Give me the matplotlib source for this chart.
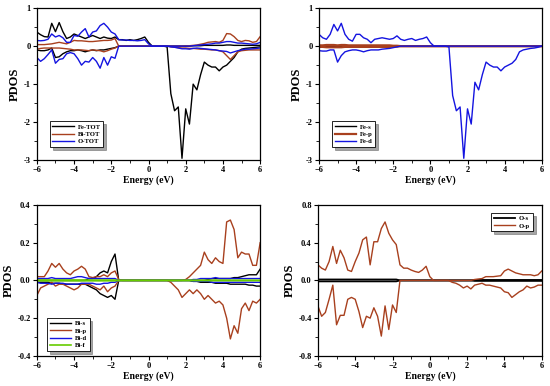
import numpy as np
import matplotlib
matplotlib.use("Agg")
import matplotlib.pyplot as plt
from matplotlib.ticker import MultipleLocator

plt.rcParams['font.family'] = 'Liberation Serif'
plt.rcParams['font.weight'] = 'bold'

# energy grid (eV), 0.2 eV steps from -6 to 6
energy = np.round(np.arange(-6, 6.01, 0.2), 1)

# ---- panel 1: total PDOS ----
fe_tot_up = [0.37, 0.30, 0.25, 0.24, 0.60, 0.38, 0.62, 0.38, 0.20, 0.24,
             0.32, 0.28, 0.24, 0.20, 0.24, 0.28, 0.24, 0.20, 0.24, 0.21,
             0.20, 0.24, 0.17, 0.17, 0.15, 0.17, 0.15, 0.17, 0.20, 0.24,
             0.10, 0, 0, 0, 0, 0, 0, 0, 0, 0,
             0, 0, 0.01, 0.01, 0.01, 0.02, 0.02, 0.02, 0.02, 0.02,
             0.02, 0.03, 0.03, 0.02, 0.02, 0.02, 0.02, 0.02, 0.02, 0.02, 0.02]
fe_tot_dn = [-0.10, -0.12, -0.12, -0.10, -0.05, -0.30, -0.28, -0.20, -0.15, -0.12,
             -0.12, -0.10, -0.12, -0.15, -0.12, -0.10, -0.12, -0.10, -0.10, -0.08,
             -0.06, -0.04, 0, 0, 0, 0, 0, 0, 0, 0,
             0, 0, 0, 0, 0, -0.02, -1.25, -1.70, -1.60, -2.95,
             -1.65, -2.05, -1.00, -1.15, -0.75, -0.42, -0.50, -0.55, -0.55, -0.65,
             -0.55, -0.50, -0.40, -0.30, -0.15, -0.08, -0.06, -0.05, -0.04, -0.03, -0.02]
bi_tot_up = [0.04, 0.04, 0.04, 0.05, 0.06, 0.08, 0.10, 0.08, 0.06, 0.10,
             0.15, 0.14, 0.14, 0.13, 0.12, 0.12, 0.13, 0.14, 0.15, 0.15,
             0.16, 0.20, 0, 0, 0, 0, 0, 0, 0, 0,
             0, 0, 0, 0, 0, 0, 0, 0, 0, 0,
             0.01, 0.01, 0.02, 0.03, 0.05, 0.07, 0.10, 0.11, 0.12, 0.10,
             0.15, 0.33, 0.32, 0.25, 0.15, 0.12, 0.15, 0.14, 0.10, 0.12, 0.25]
bi_tot_dn = [-0.08, -0.06, -0.05, -0.05, -0.05, -0.05, -0.05, -0.06, -0.07, -0.08,
             -0.10, -0.10, -0.10, -0.11, -0.12, -0.10, -0.11, -0.12, -0.15, -0.12,
             -0.08, -0.05, 0, 0, 0, 0, 0, 0, 0, 0,
             0, 0, 0, 0, 0, 0, -0.02, -0.03, -0.04, -0.05,
             -0.05, -0.06, -0.06, -0.07, -0.08, -0.08, -0.09, -0.10, -0.10, -0.12,
             -0.15, -0.25, -0.35, -0.25, -0.15, -0.12, -0.11, -0.10, -0.10, -0.10, -0.10]
o_tot_up = [0.15, 0.14, 0.15, 0.18, 0.32, 0.24, 0.28, 0.22, 0.10, 0.10,
            0.28, 0.26, 0.37, 0.46, 0.24, 0.37, 0.40, 0.54, 0.60, 0.50,
            0.37, 0.32, 0.17, 0.16, 0.16, 0.15, 0.15, 0.14, 0.15, 0.17,
            0.06, 0, 0, 0, 0, 0, 0, 0, 0, 0,
            0, 0, 0.01, 0.02, 0.03, 0.04, 0.05, 0.06, 0.08, 0.08,
            0.10, 0.12, 0.12, 0.10, 0.08, 0.08, 0.07, 0.06, 0.05, 0.06, 0.10]
o_tot_dn = [-0.30, -0.40, -0.33, -0.22, -0.10, -0.45, -0.35, -0.33, -0.20, -0.17,
            -0.20, -0.33, -0.50, -0.40, -0.42, -0.30, -0.40, -0.58, -0.30, -0.50,
            -0.28, -0.32, 0, 0, 0, 0, 0, 0, 0, 0,
            0, 0, 0, 0, 0, 0, -0.02, -0.03, -0.05, -0.07,
            -0.07, -0.08, -0.06, -0.05, -0.06, -0.07, -0.08, -0.09, -0.10, -0.12,
            -0.13, -0.14, -0.18, -0.15, -0.12, -0.10, -0.08, -0.08, -0.07, -0.06, -0.05]

# ---- panel 2: Fe orbitals ----
fe_s_up = [0.01] * 22 + [0] * 39
fe_s_dn = [-0.01] * 22 + [0] * 39
fe_p_up = [0.02, 0.02, 0.03, 0.03, 0.03, 0.02, 0.03, 0.03, 0.02, 0.02,
           0.02, 0.02, 0.02, 0.02, 0.02, 0.02, 0.02, 0.02, 0.02, 0.02,
           0.01, 0.01] + [0] * 39
fe_p_dn = [-0.02, -0.02, -0.03, -0.03, -0.03, -0.03, -0.03, -0.02, -0.02, -0.02,
           -0.02, -0.02, -0.02, -0.02, -0.02, -0.02, -0.02, -0.02, -0.02, -0.02,
           -0.01, -0.01] + [0] * 39
fe_d_up = [0.31, 0.22, 0.18, 0.31, 0.57, 0.40, 0.60, 0.31, 0.18, 0.13,
           0.31, 0.31, 0.22, 0.18, 0.09, 0.18, 0.20, 0.22, 0.20, 0.18,
           0.20, 0.27, 0.18, 0.15, 0.18, 0.20, 0.15, 0.18, 0.20, 0.24,
           0.09, 0, 0, 0, 0, 0, 0, 0, 0, 0,
           0, 0, 0, 0, 0, 0, 0, 0, 0, 0,
           0, 0, 0, 0, 0, 0, 0, 0, 0, 0, 0]
fe_d_dn = [-0.12, -0.13, -0.13, -0.10, -0.10, -0.42, -0.25, -0.15, -0.12, -0.10,
           -0.10, -0.12, -0.15, -0.12, -0.10, -0.10, -0.10, -0.08, -0.07, -0.06,
           -0.04, -0.02, 0, 0, 0, 0, 0, 0, 0, 0,
           0, 0, 0, 0, 0, -0.02, -1.30, -1.70, -1.60, -2.95,
           -1.65, -2.05, -0.95, -1.15, -0.75, -0.42, -0.50, -0.55, -0.55, -0.65,
           -0.55, -0.50, -0.45, -0.35, -0.15, -0.10, -0.08, -0.06, -0.05, -0.03, 0]

# ---- panel 3: Bi orbitals ----
bi_s_up = [0, 0, 0, 0, 0, 0, 0, 0, 0, 0,
           0, 0, 0, 0, 0.01, 0.01, 0.02, 0.04, 0.05, 0.04,
           0.10, 0.14, 0, 0, 0, 0, 0, 0, 0, 0,
           0, 0, 0, 0, 0, 0, 0, 0, 0, 0,
           0, 0, 0, 0, 0, 0, 0.005, 0.01, 0.01, 0.01,
           0.01, 0.01, 0.01, 0.015, 0.015, 0.02, 0.025, 0.03, 0.03, 0.03, 0.06]
bi_s_dn = [-0.01, -0.01, -0.01, -0.01, -0.015, -0.015, -0.015, -0.02, -0.02, -0.02,
           -0.02, -0.02, -0.02, -0.02, -0.03, -0.04, -0.05, -0.07, -0.08, -0.09,
           -0.08, -0.10, 0, 0, 0, 0, 0, 0, 0, 0,
           0, 0, 0, 0, 0, 0, 0, 0, 0, 0,
           0, 0, -0.005, -0.005, -0.01, -0.01, -0.01, -0.01, -0.015, -0.015,
           -0.015, -0.015, -0.02, -0.02, -0.02, -0.02, -0.02, -0.025, -0.025, -0.03, -0.03]
bi_p_up = [0.02, 0.02, 0.02, 0.05, 0.09, 0.07, 0.09, 0.06, 0.04, 0.03,
           0.05, 0.06, 0.075, 0.06, 0.02, 0.015, 0.02, 0.02, 0.03, 0.02,
           0.04, 0.05, 0.005, 0, 0, 0, 0, 0, 0, 0,
           0, 0, 0, 0, 0, 0, 0, 0, 0, 0,
           0.005, 0.02, 0.04, 0.06, 0.08, 0.15, 0.11, 0.09, 0.12, 0.10,
           0.09, 0.31, 0.32, 0.27, 0.12, 0.15, 0.14, 0.14, 0.08, 0.08, 0.20]
bi_p_dn = [-0.08, -0.04, -0.03, -0.02, -0.01, -0.03, -0.02, -0.02, -0.03, -0.04,
           -0.05, -0.04, -0.02, -0.02, -0.02, -0.03, -0.04, -0.05, -0.03, -0.06,
           -0.04, -0.03, 0, 0, 0, 0, 0, 0, 0, 0,
           0, 0, 0, 0, 0, 0, -0.01, -0.03, -0.05, -0.09,
           -0.07, -0.05, -0.07, -0.05, -0.07, -0.10, -0.08, -0.10, -0.12, -0.11,
           -0.13, -0.20, -0.31, -0.24, -0.28, -0.15, -0.12, -0.16, -0.11, -0.12, -0.10]
bi_d_up = [0.01, 0.01, 0.01, 0.01, 0.015, 0.01, 0.01, 0.01, 0.01, 0.01,
           0.015, 0.02, 0.02, 0.015, 0.01, 0.01, 0.01, 0.01, 0.01, 0.01,
           0.01, 0.01, 0, 0, 0, 0, 0, 0, 0, 0,
           0, 0, 0, 0, 0, 0, 0, 0, 0, 0,
           0, 0, 0.005, 0.005, 0.01, 0.01, 0.01, 0.01, 0.015, 0.01,
           0.01, 0.01, 0.01, 0.01, 0.01, 0.01, 0.01, 0.01, 0.01, 0.01, 0.01]
bi_d_dn = [-0.01, -0.015, -0.015, -0.015, -0.02, -0.015, -0.015, -0.015, -0.02, -0.02,
           -0.02, -0.02, -0.015, -0.015, -0.015, -0.015, -0.02, -0.02, -0.015, -0.015,
           -0.01, -0.01, 0, 0, 0, 0, 0, 0, 0, 0,
           0, 0, 0, 0, 0, 0, 0, 0, 0, 0,
           0, 0, -0.005, -0.005, -0.005, -0.005, -0.005, -0.01, -0.01, -0.01,
           -0.01, -0.01, -0.01, -0.01, -0.01, -0.01, -0.01, -0.01, -0.01, -0.01, -0.01]
bi_f_up = [0.002] * 22 + [0] * 39
bi_f_dn = [-0.002] * 22 + [0] * 39

# ---- panel 4: O orbitals ----
o_s_up = [0.01] * 22 + [0] * 20 + [0.005] * 19
o_s_dn = [-0.01] * 22 + [0] * 20 + [-0.005] * 19
o_p_up = [0.165, 0.13, 0.11, 0.20, 0.36, 0.18, 0.32, 0.24, 0.11, 0.095,
          0.20, 0.29, 0.43, 0.46, 0.165, 0.41, 0.41, 0.55, 0.62, 0.50,
          0.43, 0.38, 0.165, 0.13, 0.13, 0.11, 0.095, 0.085, 0.11, 0.15,
          0.04, 0, 0, 0, 0, 0, 0, 0, 0, 0,
          0, 0, 0.01, 0.015, 0.02, 0.04, 0.04, 0.04, 0.045, 0.05,
          0.10, 0.12, 0.10, 0.08, 0.07, 0.06, 0.06, 0.06, 0.05, 0.06, 0.10]
o_p_dn = [-0.27, -0.38, -0.34, -0.20, -0.05, -0.47, -0.37, -0.37, -0.20, -0.18,
          -0.20, -0.33, -0.50, -0.38, -0.40, -0.29, -0.38, -0.59, -0.27, -0.52,
          -0.26, -0.34, 0, 0, 0, 0, 0, 0, 0, 0,
          0, 0, 0, 0, 0, 0, -0.02, -0.03, -0.05, -0.08,
          -0.06, -0.09, -0.05, -0.04, -0.03, -0.05, -0.05, -0.06, -0.07, -0.08,
          -0.12, -0.13, -0.18, -0.15, -0.12, -0.10, -0.06, -0.08, -0.07, -0.05, -0.05]

BLACK = '#000000'
BROWN = '#a8401e'
BLUE = '#1414e0'
GREEN = '#66cc00'

fig = plt.figure(figsize=(5.5, 3.86), dpi=100)
ax1 = fig.add_axes([0.067, 0.585, 0.406, 0.394])
ax2 = fig.add_axes([0.580, 0.585, 0.405, 0.394])
ax3 = fig.add_axes([0.067, 0.078, 0.406, 0.391])
ax4 = fig.add_axes([0.578, 0.078, 0.407, 0.391])


def pair(ax, up, dn, color, label, lw=1.0):
    ax.plot(energy, up, color=color, lw=lw, label=label)
    ax.plot(energy, dn, color=color, lw=lw)


pair(ax1, fe_tot_up, fe_tot_dn, BLACK, 'Fe-TOT')
pair(ax1, bi_tot_up, bi_tot_dn, BROWN, 'Bi-TOT')
pair(ax1, o_tot_up, o_tot_dn, BLUE, 'O-TOT')

pair(ax2, fe_s_up, fe_s_dn, BLACK, 'Fe-s')
pair(ax2, fe_p_up, fe_p_dn, BROWN, 'Fe-p', lw=1.6)
pair(ax2, fe_d_up, fe_d_dn, BLUE, 'Fe-d')

pair(ax3, bi_s_up, bi_s_dn, BLACK, 'Bi-s')
pair(ax3, bi_p_up, bi_p_dn, BROWN, 'Bi-p')
pair(ax3, bi_d_up, bi_d_dn, BLUE, 'Bi-d')
pair(ax3, bi_f_up, bi_f_dn, GREEN, 'Bi-f', lw=1.2)

pair(ax4, o_s_up, o_s_dn, BLACK, 'O-s', lw=1.3)
pair(ax4, o_p_up, o_p_dn, BROWN, 'O-p')

ylims = [(-3, 1), (-3, 1), (-0.4, 0.4), (-0.8, 0.8)]
ysteps = [1, 1, 0.2, 0.4]
yfmt = ['{:.0f}', '{:.0f}', '{:.1f}', '{:.1f}']
for ax, yl, st, fm in zip([ax1, ax2, ax3, ax4], ylims, ysteps, yfmt):
    ax.set_xlim(-6, 6)
    ax.set_ylim(*yl)
    ax.xaxis.set_major_locator(MultipleLocator(2))
    ax.xaxis.set_minor_locator(MultipleLocator(1))
    ax.yaxis.set_major_locator(MultipleLocator(st))
    ax.yaxis.set_minor_locator(MultipleLocator(st / 2))
    ticks = np.arange(yl[0], yl[1] + st / 2, st)
    ax.set_yticks(ticks)
    ax.set_yticklabels([fm.format(t) for t in ticks])
    ax.tick_params(which='major', direction='out', length=3, width=0.8,
                   labelsize=6, pad=1.5)
    ax.tick_params(which='minor', direction='out', length=2, width=0.6)
    for lab in ax.get_xticklabels() + ax.get_yticklabels():
        lab.set_fontweight('bold')
    for s in ax.spines.values():
        s.set_linewidth(0.9)
    ax.set_xlabel('Energy (eV)', fontsize=7, fontweight='bold', labelpad=1)
    ax.set_ylabel('PDOS', fontsize=9, fontweight='bold', labelpad=2)

leg_kw = dict(fontsize=4.8, frameon=True, fancybox=False, shadow=True,
              edgecolor='black', handlelength=3.2, labelspacing=0.25,
              borderpad=0.4, handletextpad=0.6, borderaxespad=0)
for ax, loc, anchor in [(ax1, 'lower left', (0.058, 0.086)),
                        (ax2, 'lower left', (0.058, 0.086)),
                        (ax3, 'lower left', (0.045, 0.033)),
                        (ax4, 'upper right', (0.96, 0.947))]:
    leg = ax.legend(loc=loc, bbox_to_anchor=anchor, **leg_kw)
    leg.get_frame().set_linewidth(0.6)
    for t in leg.get_texts():
        t.set_fontweight('bold')

fig.savefig('out.png', dpi=100)
